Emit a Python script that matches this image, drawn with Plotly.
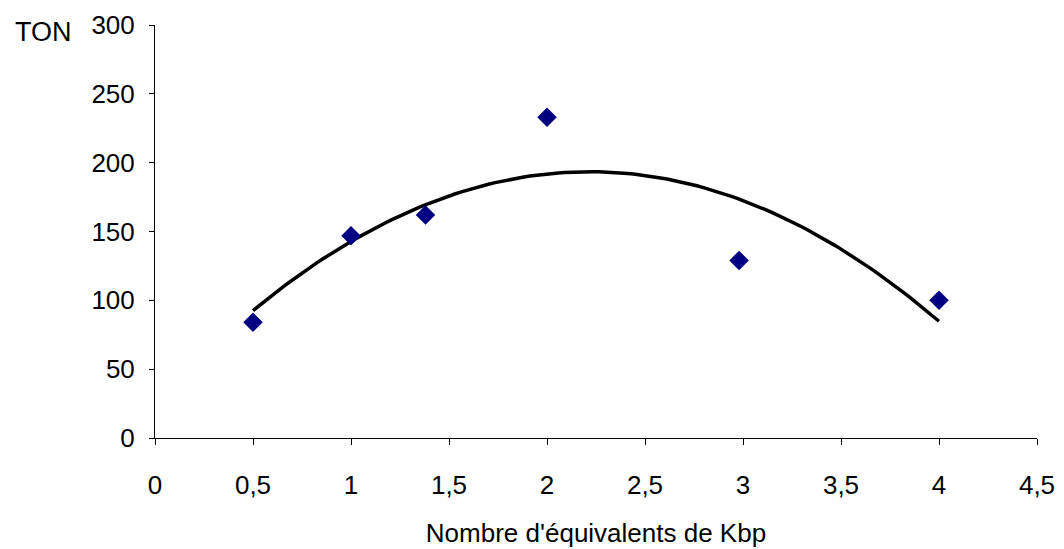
import numpy as np
import plotly.graph_objects as go

# Measured points
kbp = [0.5, 1.0, 1.38, 2.0, 2.98, 4.0]
ton = [84, 147, 162, 233, 129, 100]

x_ticks = [0, 0.5, 1, 1.5, 2, 2.5, 3, 3.5, 4, 4.5]
x_tick_text = ["0", "0,5", "1", "1,5", "2", "2,5", "3", "3,5", "4", "4,5"]
y_ticks = [0, 50, 100, 150, 200, 250, 300]

# Second-order polynomial trendline through the measured points
coef = np.polyfit(kbp, ton, 2)
trend_x = np.linspace(min(kbp), max(kbp), 120)
trend_y = np.polyval(coef, trend_x)

font = dict(family="Liberation Sans, Arial, sans-serif", size=26, color="black")

fig = go.Figure()
fig.add_trace(go.Scatter(
    x=trend_x, y=trend_y, mode="lines",
    line=dict(color="black", width=3.5), hoverinfo="skip", showlegend=False,
))
fig.add_trace(go.Scatter(
    x=kbp, y=ton, mode="markers",
    marker=dict(symbol="diamond", size=15, color="#000080"),
    showlegend=False,
))

fig.update_layout(
    width=1064, height=549,
    margin=dict(l=155, r=27, t=25, b=111),
    paper_bgcolor="white", plot_bgcolor="white",
    font=font,
    xaxis=dict(
        range=[0, 4.5], tickvals=x_ticks, ticktext=x_tick_text,
        showgrid=False, zeroline=False, showline=True, linecolor="black", linewidth=1,
        ticks="outside", ticklen=6, tickcolor="black", tickwidth=1,
        ticklabelstandoff=18, automargin=False,
        title=dict(text="Nombre d'équivalents de Kbp", font=font, standoff=24),
    ),
    yaxis=dict(
        range=[0, 300], tickvals=y_ticks,
        showgrid=False, zeroline=False, showline=True, linecolor="black", linewidth=1,
        ticks="outside", ticklen=5, tickcolor="black", tickwidth=1,
        ticklabelstandoff=9, automargin=False,
    ),
    annotations=[dict(
        text="TON", xref="paper", yref="paper", x=-0.161, y=0.983,
        xanchor="left", yanchor="middle", showarrow=False,
        font=dict(family=font["family"], size=27, color="black"),
    )],
)

fig.write_html("out.html")
